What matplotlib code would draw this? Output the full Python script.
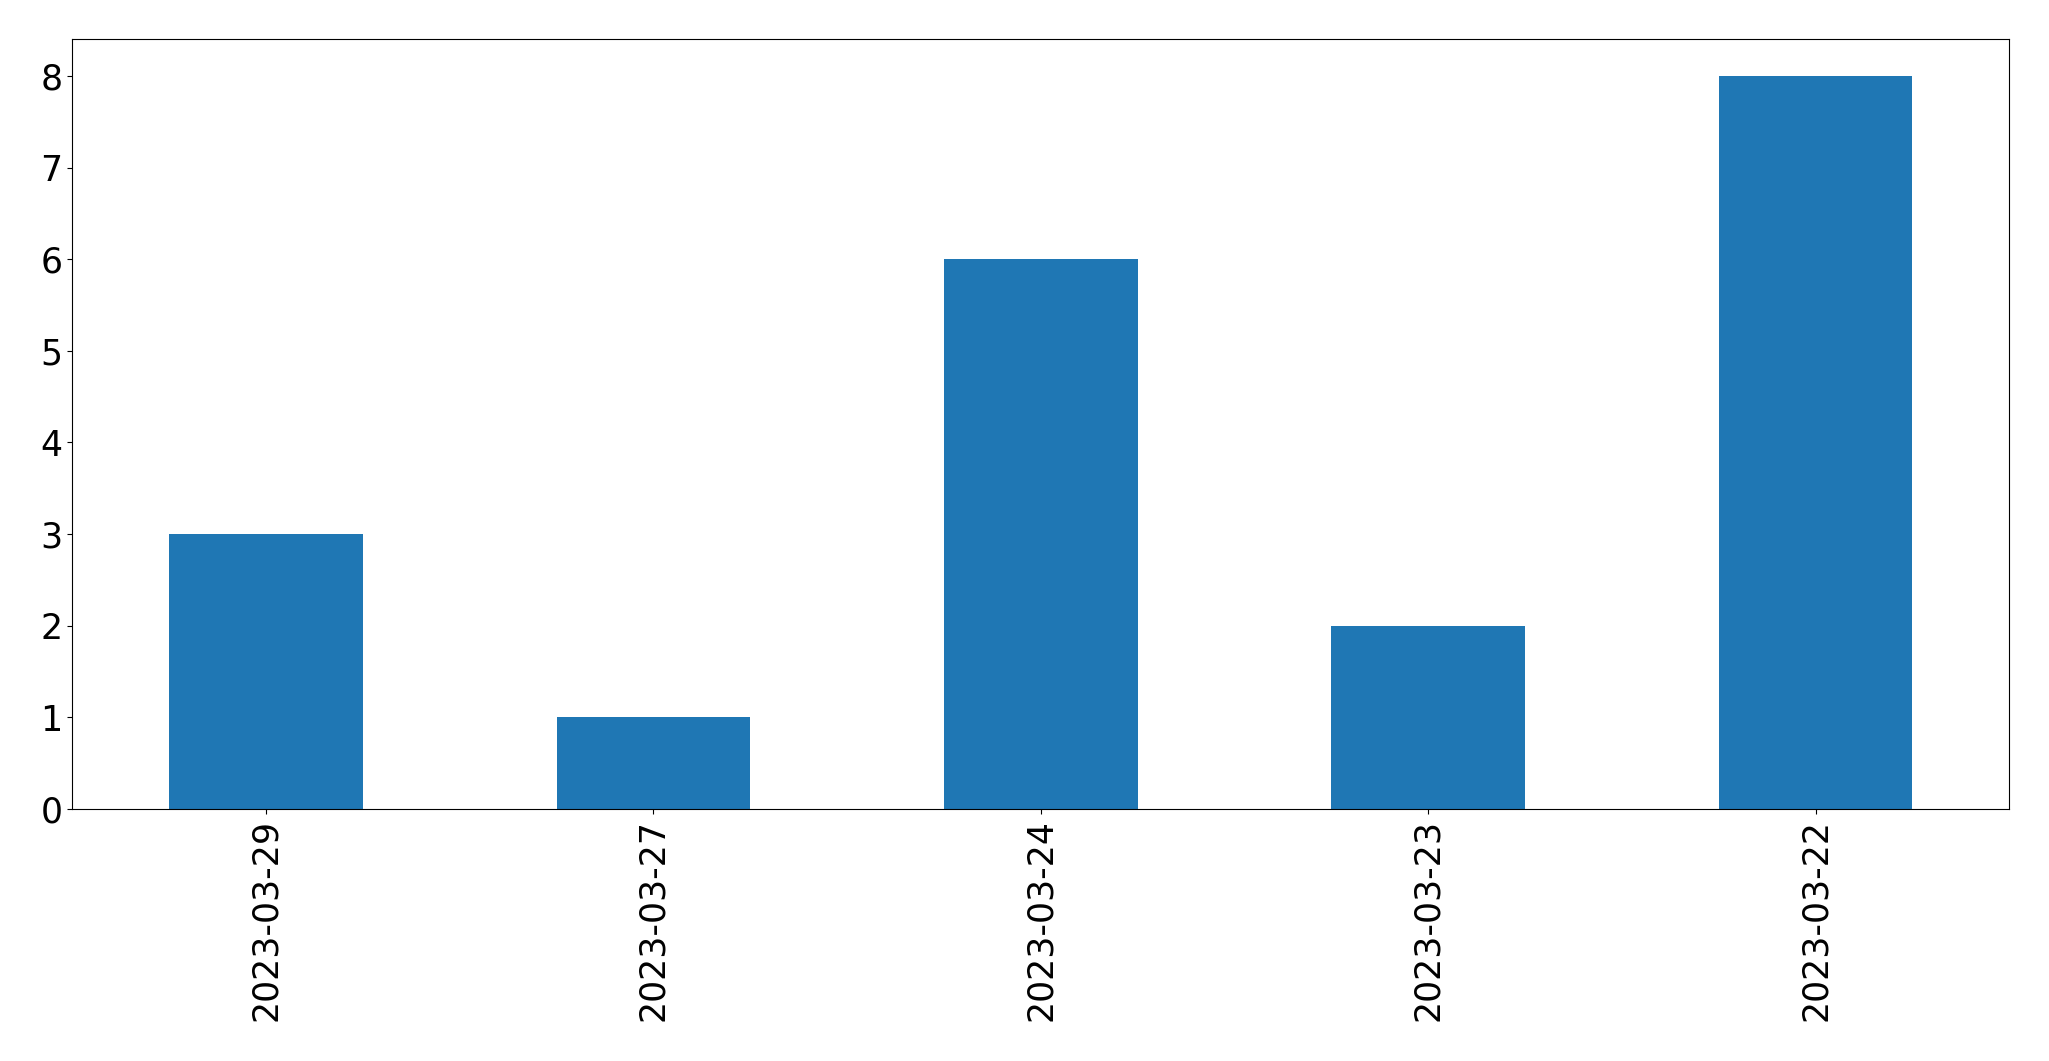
import matplotlib
matplotlib.use("Agg")
import matplotlib.pyplot as plt
import pandas as pd

# dates and counts
dates = ["2023-03-29", "2023-03-27", "2023-03-24", "2023-03-23", "2023-03-22"]
counts = [3, 1, 6, 2, 8]


def main():
    series = pd.Series(counts, index=dates)

    fig = plt.figure(figsize=(20.49, 10.61), dpi=100)
    ax = fig.add_subplot(111)
    series.plot(kind="bar", ax=ax, color="#1f77b4", fontsize=25)
    plt.subplots_adjust(left=72.3 / 2049, right=2009.3 / 2049,
                        top=1 - 39.3 / 1061, bottom=1 - 809 / 1061)
    fig.savefig("out.png", dpi=100)


if __name__ == "__main__":
    main()
